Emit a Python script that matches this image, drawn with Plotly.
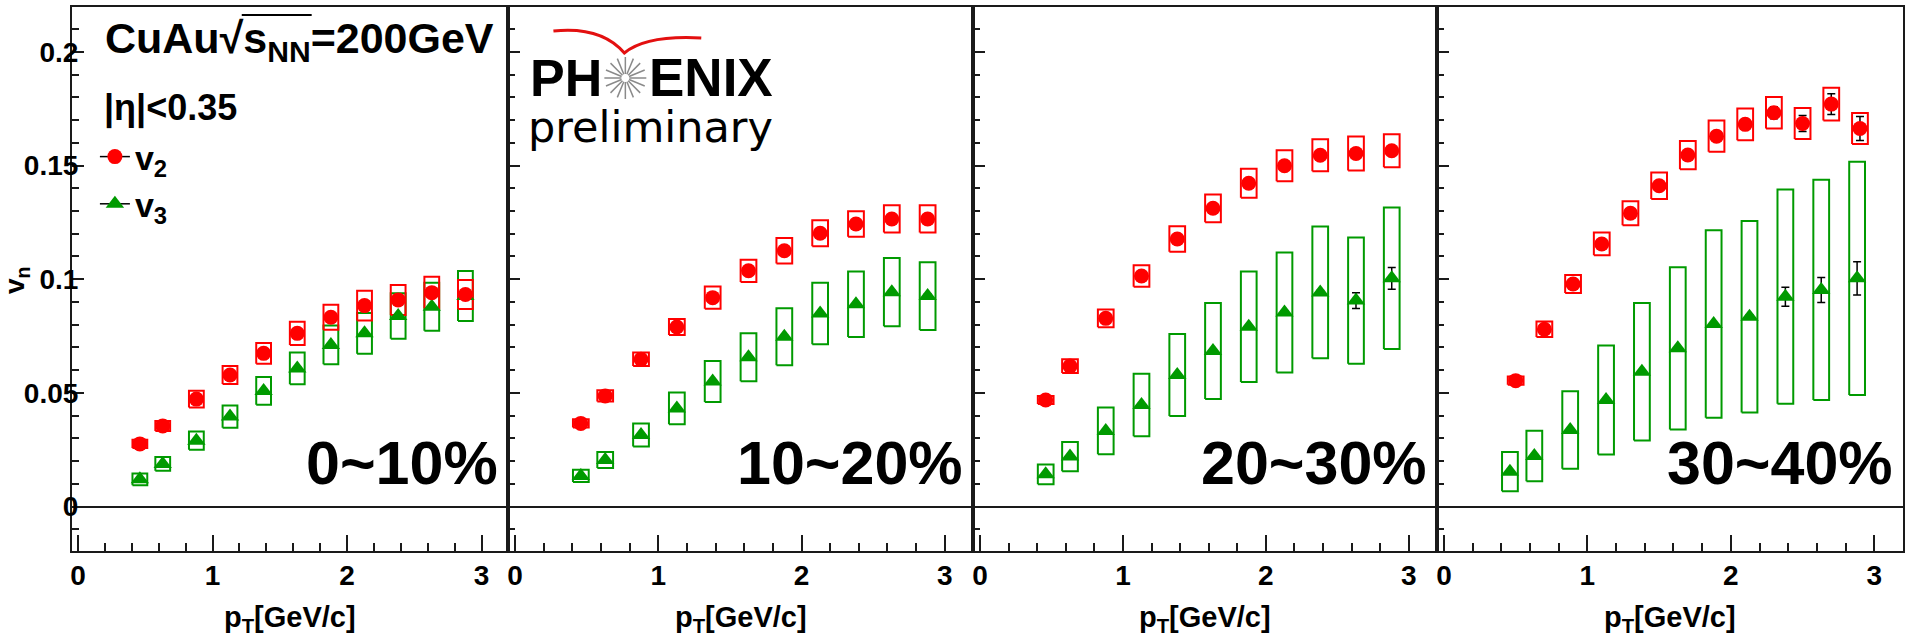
import numpy as np
import plotly.graph_objects as go

# ---------------- data ----------------
pt = [0.46, 0.63, 0.88, 1.13, 1.38, 1.63, 1.88, 2.13, 2.38, 2.63, 2.88]
pt_v2_3040 = [0.5, 0.7, 0.9, 1.1, 1.3, 1.5, 1.7, 1.9, 2.1, 2.3, 2.5, 2.7, 2.9]

centralities = ["0~10%", "10~20%", "20~30%", "30~40%"]

# v2 (red circles): value, statistical error, systematic error
v2_0010 = [0.0276, 0.0355, 0.0473, 0.0579, 0.0674, 0.0762, 0.0833, 0.0884, 0.0909, 0.0941, 0.0933]
v2_0010_stat = [0.0005, 0.0006, 0.0007, 0.0008, 0.0009, 0.0010, 0.0011, 0.0012, 0.0014, 0.0016, 0.0018]
v2_0010_sys = [0.0018, 0.0022, 0.0037, 0.0040, 0.0046, 0.0051, 0.0055, 0.0065, 0.0066, 0.0070, 0.0064]

v2_1020 = [0.0366, 0.0487, 0.0648, 0.0790, 0.0919, 0.1037, 0.1125, 0.1202, 0.1243, 0.1265, 0.1265]
v2_1020_stat = [0.0005, 0.0006, 0.0007, 0.0008, 0.0009, 0.0010, 0.0011, 0.0012, 0.0014, 0.0016, 0.0018]
v2_1020_sys = [0.0018, 0.0025, 0.0030, 0.0035, 0.0049, 0.0049, 0.0056, 0.0057, 0.0056, 0.0060, 0.0060]

v2_2030 = [0.0469, 0.0618, 0.0828, 0.1014, 0.1177, 0.1312, 0.1422, 0.1499, 0.1545, 0.1553, 0.1565]
v2_2030_stat = [0.0005, 0.0006, 0.0007, 0.0008, 0.0009, 0.0010, 0.0011, 0.0012, 0.0014, 0.0016, 0.0018]
v2_2030_sys = [0.0018, 0.0030, 0.0039, 0.0047, 0.0056, 0.0061, 0.0064, 0.0068, 0.0070, 0.0075, 0.0073]

v2_3040 = [0.0554, 0.0780, 0.0979, 0.1155, 0.1290, 0.1411, 0.1546, 0.1629, 0.1681, 0.1732, 0.1685, 0.1770, 0.1663]
v2_3040_stat = [0.0005, 0.0007, 0.0010, 0.0012, 0.0014, 0.0016, 0.0018, 0.0020, 0.0022, 0.0026, 0.0035, 0.0046, 0.0053]
v2_3040_sys = [0.0018, 0.0034, 0.0040, 0.0050, 0.0053, 0.0058, 0.0062, 0.0069, 0.0070, 0.0069, 0.0068, 0.0072, 0.0068]

# v3 (green triangles): value, statistical error, systematic error
v3_0010 = [0.0120, 0.0188, 0.0290, 0.0396, 0.0509, 0.0608, 0.0711, 0.0762, 0.0838, 0.0879, 0.0926]
v3_0010_stat = [0.0003, 0.0003, 0.0004, 0.0004, 0.0005, 0.0005, 0.0006, 0.0006, 0.0007, 0.0007, 0.0008]
v3_0010_sys = [0.0026, 0.0030, 0.0040, 0.0049, 0.0061, 0.0070, 0.0085, 0.0090, 0.0100, 0.0106, 0.0110]

v3_1020 = [0.0135, 0.0205, 0.0315, 0.0432, 0.0550, 0.0657, 0.0747, 0.0849, 0.0890, 0.0943, 0.0926]
v3_1020_stat = [0.0003, 0.0003, 0.0004, 0.0004, 0.0005, 0.0005, 0.0006, 0.0006, 0.0007, 0.0007, 0.0008]
v3_1020_sys = [0.0027, 0.0035, 0.0051, 0.0070, 0.0090, 0.0106, 0.0125, 0.0135, 0.0144, 0.0150, 0.0149]

v3_2030 = [0.0142, 0.0220, 0.0333, 0.0447, 0.0579, 0.0684, 0.0791, 0.0854, 0.0942, 0.0906, 0.1004]
v3_2030_stat = [0.0003, 0.0003, 0.0004, 0.0004, 0.0005, 0.0005, 0.0006, 0.0007, 0.0008, 0.0035, 0.0048]
v3_2030_sys = [0.0043, 0.0064, 0.0103, 0.0137, 0.0180, 0.0211, 0.0243, 0.0264, 0.0290, 0.0278, 0.0311]

v3_3040 = [0.0154, 0.0223, 0.0337, 0.0469, 0.0593, 0.0696, 0.0803, 0.0835, 0.0923, 0.0953, 0.1004]
v3_3040_stat = [0.0003, 0.0003, 0.0004, 0.0004, 0.0005, 0.0005, 0.0006, 0.0008, 0.0042, 0.0055, 0.0073]
v3_3040_sys = [0.0086, 0.0111, 0.0170, 0.0240, 0.0302, 0.0357, 0.0412, 0.0421, 0.0471, 0.0484, 0.0513]

x_ticks = [0, 1, 2, 3]
x_ticktext = ["0", "1", "2", "3"]
y_ticks = [0, 0.05, 0.1, 0.15, 0.2]
y_ticktext = ["0", "0.05", "0.1", "0.15", "0.2"]

panels = [
    (pt, v2_0010, v2_0010_stat, v2_0010_sys, pt, v3_0010, v3_0010_stat, v3_0010_sys),
    (pt, v2_1020, v2_1020_stat, v2_1020_sys, pt, v3_1020, v3_1020_stat, v3_1020_sys),
    (pt, v2_2030, v2_2030_stat, v2_2030_sys, pt, v3_2030, v3_2030_stat, v3_2030_sys),
    (pt_v2_3040, v2_3040, v2_3040_stat, v2_3040_sys, pt, v3_3040, v3_3040_stat, v3_3040_sys),
]

# ---------------- styling ----------------
W, H = 1905, 640
RED = "#ff0000"
GREEN = "#009a00"
FRAME = "#1a1a1a"
SANS = "Liberation Sans, Arial, Helvetica, sans-serif"
BOX_HALF = 0.055          # half width of systematic boxes in pT units

def px(xp):
    return xp / W

def py(yp):
    return 1 - yp / H

# panel edges in pixels
edges = [70, 507, 972.5, 1437, 1903]
y_dom = [py(551), py(7)]
x_range = [-0.045, 3.2]
y_range = [-0.0195, 0.2197]


def box_path(x, y, sys):
    xs, ys = [], []
    for xi, yi, si in zip(x, y, sys):
        x0, x1 = xi - BOX_HALF, xi + BOX_HALF
        y0, y1 = yi - si, yi + si
        xs += [x0, x1, x1, x0, x0, None]
        ys += [y0, y0, y1, y1, y0, None]
    return xs, ys


fig = go.Figure()

for i, (x2, y2, s2, sy2, x3, y3, s3, sy3) in enumerate(panels):
    xa = "x" if i == 0 else f"x{i + 1}"
    ya = "y" if i == 0 else f"y{i + 1}"
    # systematic boxes
    for xv, yv, sv, col in ((x3, y3, sy3, GREEN), (x2, y2, sy2, RED)):
        bx, by = box_path(xv, yv, sv)
        fig.add_trace(go.Scatter(x=bx, y=by, mode="lines", xaxis=xa, yaxis=ya,
                                 line=dict(color=col, width=2), hoverinfo="skip",
                                 showlegend=False))
    # data points with statistical errors
    fig.add_trace(go.Scatter(x=x3, y=y3, mode="markers", xaxis=xa, yaxis=ya,
                             marker=dict(symbol="triangle-up", size=16, color=GREEN),
                             error_y=dict(type="data", array=s3, color="black",
                                          thickness=1.5, width=4),
                             showlegend=False))
    fig.add_trace(go.Scatter(x=x2, y=y2, mode="markers", xaxis=xa, yaxis=ya,
                             marker=dict(symbol="circle", size=15, color=RED),
                             error_y=dict(type="data", array=s2, color="black",
                                          thickness=1.5, width=4),
                             showlegend=False))

    axis_common = dict(showgrid=False, showline=True, linecolor=FRAME, linewidth=2,
                       mirror=True, ticks="inside", tickcolor=FRAME, tickwidth=2)
    fig.update_layout(**{
        ("xaxis" if i == 0 else f"xaxis{i + 1}"): dict(
            domain=[px(edges[i]), px(edges[i + 1])], range=x_range, anchor=ya,
            tickvals=x_ticks, ticktext=x_ticktext, ticklen=16, zeroline=False,
            minor=dict(dtick=0.2, tick0=0, ticks="inside", ticklen=8,
                       tickwidth=2, tickcolor=FRAME),
            tickfont=dict(family=SANS, size=28, color="black", weight="bold"),
            ticklabelstandoff=-2,
            **axis_common),
        ("yaxis" if i == 0 else f"yaxis{i + 1}"): dict(
            domain=y_dom, range=y_range, anchor=xa,
            tickvals=y_ticks, ticktext=y_ticktext, ticklen=12,
            showticklabels=(i == 0),
            zeroline=True, zerolinecolor=FRAME, zerolinewidth=2,
            minor=dict(dtick=0.01, tick0=0, ticks="inside", ticklen=7,
                       tickwidth=2, tickcolor=FRAME),
            tickfont=dict(family=SANS, size=28, color="black", weight="bold"),
            ticklabelstandoff=-14,
            **axis_common),
    })

# legend entries
fig.add_trace(go.Scatter(x=[None], y=[None], mode="lines+markers", name="v<sub>2</sub>",
                         line=dict(color="black", width=1.5),
                         marker=dict(symbol="circle", size=15, color=RED)))
fig.add_trace(go.Scatter(x=[None], y=[None], mode="lines+markers", name="v<sub>3</sub>",
                         line=dict(color="black", width=1.5),
                         marker=dict(symbol="triangle-up", size=16, color=GREEN)))

annotations = []


def add_text(text, x, y, size, xanchor="left", yanchor="middle", family=SANS,
             weight="bold", color="black", angle=0):
    annotations.append(dict(text=text, x=px(x), y=py(y), xref="paper", yref="paper",
                            xanchor=xanchor, yanchor=yanchor, showarrow=False,
                            textangle=angle,
                            font=dict(family=family, size=size, color=color,
                                      weight=weight)))


# collision system and acceptance
add_text("CuAu√s<sub>NN</sub>=200GeV", 101, 41, 43)
add_text("|η|<0.35", 100, 108, 36)

# centrality labels
for i, lab in enumerate(centralities):
    add_text(lab, edges[i + 1] - 8, 463, 61, xanchor="right")

# x axis titles
for i in range(4):
    add_text("p<sub>T</sub>[GeV/c]", (edges[i] + edges[i + 1]) / 2, 619, 29,
             xanchor="center")

# y axis title
add_text("v<sub>n</sub>", 14, 280, 28, xanchor="center", angle=-90)

# PHENIX preliminary logo
add_text("PH", 527, 78, 52)
add_text("ENIX", 646, 78, 53)
add_text("preliminary", 525, 127, 43, family="DejaVu Sans", weight="normal")

shapes = []
# overline of the square root
shapes.append(dict(type="line", xref="paper", yref="paper",
                   x0=px(240), x1=px(310), y0=py(15), y1=py(15),
                   line=dict(color="black", width=2)))
# red wing above the logo
shapes.append(dict(type="path", xref="paper", yref="paper",
                   path=(f"M {px(552)},{py(31)} Q {px(600)},{py(26)} {px(623)},{py(53)} "
                         f"Q {px(645)},{py(35)} {px(700)},{py(38)}"),
                   line=dict(color="#e31010", width=3)))
# star in the logo
cx, cy = 624, 78
for k in range(16):
    a = np.pi * 2 * k / 16
    shapes.append(dict(type="line", xref="paper", yref="paper",
                       x0=px(cx + 4 * np.cos(a)), y0=py(cy + 4 * np.sin(a)),
                       x1=px(cx + 21 * np.cos(a)), y1=py(cy + 21 * np.sin(a)),
                       line=dict(color="#8a8a8a", width=1.5)))

fig.update_layout(
    width=W, height=H, margin=dict(l=0, r=0, t=0, b=0),
    paper_bgcolor="white", plot_bgcolor="white",
    annotations=annotations, shapes=shapes,
    showlegend=True,
    legend=dict(x=px(93), y=py(128), xanchor="left", yanchor="top",
                bgcolor="rgba(0,0,0,0)", borderwidth=0, itemwidth=30,
                font=dict(family=SANS, size=34, color="black", weight="bold"),
                tracegroupgap=0),
)

fig.write_html("out.html")
